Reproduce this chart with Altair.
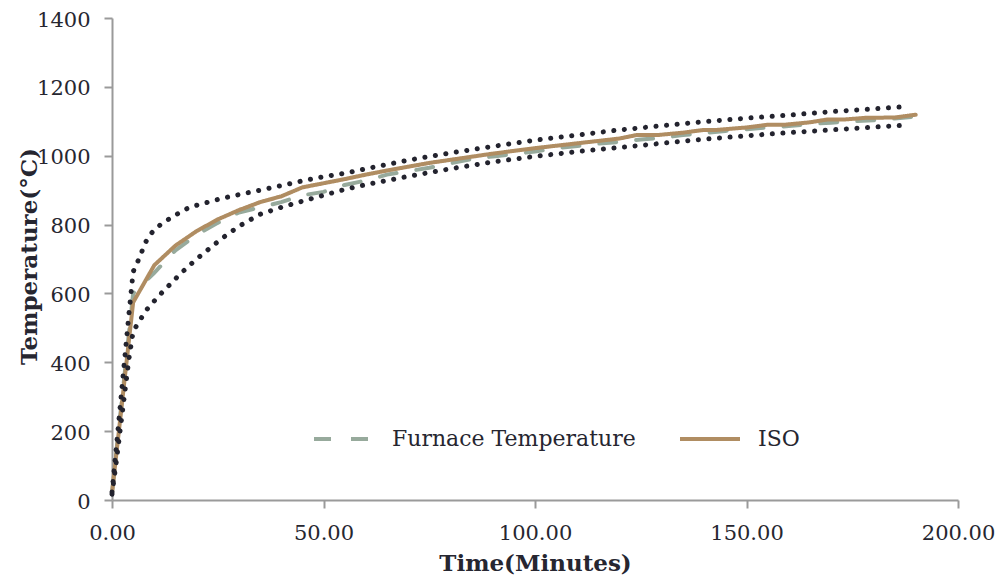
import altair as alt
import pandas as pd

# ISO standard curve
iso_t = [0, 5, 10, 15, 20, 25, 30, 35, 40, 45, 50, 55, 60, 65, 70, 75, 80, 85, 90, 95,
         100, 105, 110, 115, 120, 124, 129, 135, 140, 143, 150, 155, 159, 165, 169, 173,
         178, 185, 190]
iso_v = [20, 574, 682, 739, 781, 815, 842, 865, 882, 908, 920, 932, 945, 957, 968, 979,
         988, 997, 1006, 1014, 1022, 1029, 1036, 1043, 1050, 1060, 1060, 1067, 1075, 1075,
         1082, 1090, 1090, 1097, 1105, 1105, 1110, 1111, 1119]

# Furnace temperature
fur_t = [0, 5, 10, 15, 20, 25, 30, 35, 40, 45, 50, 55, 60, 65, 70, 75, 80, 85, 90, 95,
         100, 105, 110, 115, 120, 125, 130, 135, 140, 145, 150, 155, 160, 165, 170, 175,
         180, 185, 190]
fur_v = [20, 600, 660, 725, 770, 805, 835, 850, 865, 885, 895, 915, 928, 945, 955, 965,
         978, 990, 998, 1005, 1012, 1022, 1028, 1035, 1040, 1047, 1052, 1060, 1066, 1072,
         1077, 1082, 1086, 1092, 1096, 1100, 1103, 1108, 1114]

# Tolerance bounds
up_t = [0, 1, 2, 3, 4, 5, 6, 7, 8, 9, 10, 12, 14, 16, 18, 20, 23, 26, 30, 35, 40, 45,
        50, 55, 60, 70, 80, 90, 100, 110, 120, 130, 140, 150, 160, 170, 180, 188]
up_v = [23, 150, 280, 410, 540, 663, 690, 720, 750, 770, 785, 805, 820, 835, 848, 856,
        866, 876, 887, 900, 913, 927, 939, 949, 962, 987, 1008, 1027, 1045, 1060, 1075,
        1087, 1099, 1109, 1118, 1128, 1136, 1143]
lo_t = [0, 1, 2, 3, 4, 5, 6, 8, 10, 12, 14, 16, 18, 20, 23, 26, 30, 35, 40, 45, 50, 55,
        60, 70, 80, 90, 100, 110, 120, 130, 140, 150, 160, 170, 180, 188]
lo_v = [17, 110, 210, 310, 410, 490, 510, 550, 578, 605, 630, 655, 678, 700, 730, 760,
        795, 830, 850, 868, 885, 902, 916, 940, 962, 982, 998, 1012, 1024, 1036, 1048,
        1058, 1067, 1075, 1083, 1089]

FONT = "DejaVu Serif"
TXT = "#262630"

main = pd.concat([
    pd.DataFrame({"t": fur_t, "v": fur_v, "s": "Furnace Temperature"}),
    pd.DataFrame({"t": iso_t, "v": iso_v, "s": "ISO"}),
])
bounds = pd.concat([
    pd.DataFrame({"t": up_t, "v": up_v, "b": "upper"}),
    pd.DataFrame({"t": lo_t, "v": lo_v, "b": "lower"}),
])

x = alt.X("t:Q", scale=alt.Scale(domain=[0, 200], nice=False),
          axis=alt.Axis(values=[0, 50, 100, 150, 200], format=".2f", labelFlush=False,
                        title="Time(Minutes)", titleY=63, titleBaseline="middle"))
y = alt.Y("v:Q", scale=alt.Scale(domain=[0, 1400], nice=False),
          axis=alt.Axis(values=[0, 200, 400, 600, 800, 1000, 1200, 1400], format="d",
                        labelFlush=False, labelOffset=2,
                        title="Temperature(°C)", titleX=-83, titleY=238,
                        titleBaseline="middle", titleAlign="center"))

lines = alt.Chart(main).mark_line(strokeWidth=4, strokeCap="round").encode(
    x=x, y=y,
    color=alt.Color("s:N", scale=alt.Scale(domain=["Furnace Temperature", "ISO"],
                                           range=["#97aa9c", "#b08d62"]),
                    legend=alt.Legend(title=None, orient="none", legendX=200, legendY=389,
                                      direction="horizontal", symbolType="stroke",
                                      symbolSize=3600, symbolStrokeWidth=4,
                                      labelFont=FONT, labelFontSize=22, labelColor=TXT,
                                      labelOffset=16, columnPadding=36,
                                      labelLimit=400)),
    strokeDash=alt.StrokeDash("s:N", scale=alt.Scale(domain=["Furnace Temperature", "ISO"],
                                                     range=[[17, 20], [1, 0]]),
                              legend=None),
)

dots = alt.Chart(bounds).mark_line(strokeWidth=5, strokeCap="round",
                                   strokeDash=[0.1, 10.5], color="#23232e").encode(
    x="t:Q", y="v:Q", detail="b:N")

chart = alt.layer(lines, dots).properties(
    width=846, height=482,
    autosize=alt.AutoSizeParams(type="none"),
    padding={"left": 104, "top": 10, "right": 37, "bottom": 75},
).configure_view(stroke=None).configure_axis(
    grid=False, domainColor="#9a9a9a", domainWidth=2, tickColor="#9a9a9a",
    tickWidth=2, tickSize=8, labelFont=FONT, labelFontSize=21, labelColor=TXT,
    titleFont=FONT, titleFontSize=23, titleFontWeight="bold", titleColor=TXT,
).configure_axisY(labelPadding=14).configure_axisX(labelPadding=14)

chart.save("out.html", embed_options={"renderer": "svg", "actions": False})
